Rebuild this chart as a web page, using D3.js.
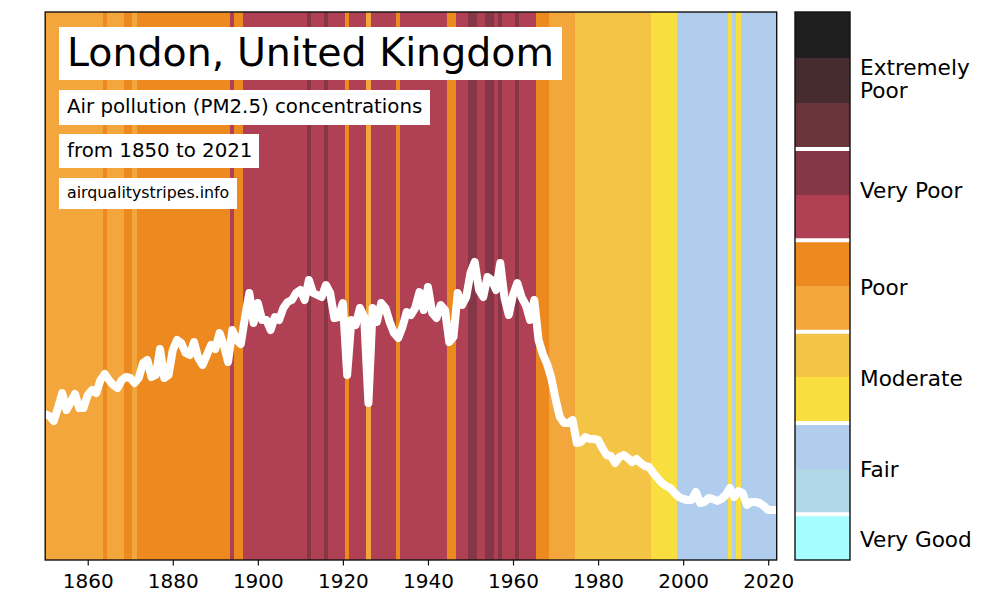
<!DOCTYPE html>
<html><head><meta charset="utf-8">
<script src="https://cdn.jsdelivr.net/npm/d3@7"></script>
<style>html,body{margin:0;padding:0;background:#fff}svg{display:block}text{font-family:"DejaVu Sans",sans-serif;fill:#000}</style>
</head><body><svg id="c" width="1000" height="613"></svg>
<script>
const firstYear = 1850;
const pm25 = [
14.6,14.4,13.9,15.2,16.7,15.0,15.8,16.6,15.2,15.2,
16.5,17.0,16.7,18.0,18.6,18.0,17.5,17.2,18.0,18.3,
18.2,17.7,18.2,19.7,20.0,18.3,18.5,21.1,18.2,18.5,
21.0,22.0,21.7,20.7,20.5,21.8,20.2,19.5,20.5,21.5,
21.1,22.7,21.5,19.8,23.0,22.0,21.6,24.3,26.7,23.7,
25.7,24.0,24.0,23.0,24.3,24.0,25.2,25.8,26.0,26.7,
27.0,26.0,28.0,26.7,26.5,26.3,27.5,26.7,24.2,24.3,
25.7,18.5,24.0,23.5,25.2,24.3,15.7,25.2,23.8,25.7,
25.2,23.8,22.7,22.2,23.3,24.8,24.5,25.2,26.8,25.0,
27.3,24.7,24.2,25.5,25.0,21.8,22.3,26.7,25.5,26.3,
28.7,29.8,27.0,26.3,28.3,28.0,27.0,29.7,26.2,24.5,
26.5,27.7,26.3,25.5,24.0,26.0,22.0,20.6,19.6,18.2,
16.1,14.3,13.7,13.7,14.0,11.7,11.8,12.3,12.1,12.1,
12.0,11.2,10.5,10.4,9.7,10.3,10.5,10.2,9.8,10.1,
9.7,9.4,9.3,8.7,8.2,7.7,7.4,7.2,6.7,6.3,
6.1,6.0,6.0,6.8,5.7,5.8,6.2,6.1,5.9,6.1,
6.5,7.2,6.3,6.9,6.7,5.5,5.8,5.8,5.7,5.4,
5.0,5.0];
// Index into levelColors for each year's stripe
const stripeLevel = [
6,6,6,6,6,6,6,6,6,6,
6,6,6,6,5,6,6,6,6,5,
5,6,5,5,5,5,5,5,5,5,
5,5,5,5,5,5,5,5,5,5,
5,5,5,5,4,5,5,4,4,4,
4,4,4,4,4,4,4,4,4,4,
4,4,3,4,4,4,3,4,4,4,
4,5,4,4,4,4,6,4,4,4,
4,4,4,5,4,4,4,4,4,4,
4,4,4,4,4,5,5,4,4,4,
3,3,4,4,3,3,4,3,4,4,
4,3,4,4,4,4,5,5,5,6,
6,6,6,6,6,7,7,7,7,7,
7,7,7,7,7,7,7,7,7,7,
7,7,7,8,8,8,8,8,8,9,
9,9,9,9,9,9,9,9,9,9,
9,8,9,8,9,9,9,9,9,9,
9,9];
const levelColors = ["#201f20","#462c2e","#6a343b","#853748","#b04155","#ec8a20","#f3a63c","#f3c446","#f9de40","#b0cdee","#b0d8e6","#a5fdff"];
const levelSeparators = [3,5,7,9,11];
const categoryLabels = [["Extremely","Poor"],["Very Poor"],["Poor"],["Moderate"],["Fair"],["Very Good"]];
const categoryCenters = [1.456,3.91,6.02,8.02,10.02,11.544];
const tickYears = [1860,1880,1900,1920,1940,1960,1980,2000,2020];
const titleLines = [
  {t:"London, United Kingdom", size:39.5, top:27, h:53, w:503},
  {t:"Air pollution (PM2.5) concentrations", size:19.8, top:90, h:35, w:371},
  {t:"from 1850 to 2021", size:19.8, top:134, h:34, w:200},
  {t:"airqualitystripes.info", size:15.8, top:178, h:31, w:178}
];

const L=45.2,R=776.7,T=12,B=560,CL=795,CR=850;
const svg=d3.select("#c");
const x=d3.scaleLinear().domain([1850,2022]).range([L,R]);
const y=d3.scaleLinear().domain([0,54.8]).range([B,T]);
const years=pm25.map((_,i)=>firstYear+i);

svg.append("defs").append("clipPath").attr("id","plot").append("rect")
  .attr("x",L).attr("y",T).attr("width",R-L).attr("height",B-T);
const plot=svg.append("g").attr("clip-path","url(#plot)");
plot.selectAll("rect.s").data(years).join("rect").attr("class","s")
  .attr("shape-rendering","crispEdges")
  .attr("x",d=>x(d-0.5))
  .attr("width",d=>x(d===2021?2022.5:d+0.5)-x(d-0.5))
  .attr("y",T).attr("height",B-T)
  .attr("fill",(d,i)=>levelColors[stripeLevel[i]]);
plot.append("path").datum(pm25)
  .attr("d",d3.line().x((d,i)=>x(years[i])).y(d=>y(d)))
  .attr("fill","none").attr("stroke","#fff").attr("stroke-width",8)
  .attr("stroke-linejoin","round").attr("stroke-linecap","square");

svg.append("rect").attr("x",L).attr("y",T).attr("width",R-L).attr("height",B-T)
  .attr("fill","none").attr("stroke","#111").attr("stroke-width",1.4);

const axis=svg.append("g").attr("transform",`translate(0,${B})`)
  .call(d3.axisBottom(x).tickValues(tickYears).tickFormat(d3.format("d")).tickSize(5.5).tickPadding(8));
axis.select(".domain").remove();
axis.selectAll("line").attr("stroke","#111").attr("stroke-width",1.2);
axis.selectAll("text").attr("font-size",20).attr("font-family",'"DejaVu Sans"').attr("fill","#000");

titleLines.forEach(d=>{
  svg.append("rect").attr("x",59).attr("y",d.top).attr("width",d.w).attr("height",d.h).attr("fill","#fff");
  svg.append("text").attr("x",67).attr("y",d.top+d.h/2-1.3).attr("dy","0.36em").attr("font-size",d.size).text(d.t);
});

const band=d3.scaleBand().domain(d3.range(levelColors.length)).range([T,B]);
svg.selectAll("rect.c").data(levelColors).join("rect").attr("class","c")
  .attr("shape-rendering","crispEdges")
  .attr("x",CL).attr("width",CR-CL).attr("y",(d,i)=>band(i)).attr("height",band.bandwidth()+0.3).attr("fill",d=>d);
svg.selectAll("line.sep").data(levelSeparators).join("line").attr("class","sep")
  .attr("x1",CL).attr("x2",CR).attr("y1",d=>band(d)).attr("y2",d=>band(d))
  .attr("stroke","#fff").attr("stroke-width",4);
svg.append("rect").attr("x",CL).attr("y",T).attr("width",CR-CL).attr("height",B-T)
  .attr("fill","none").attr("stroke","#111").attr("stroke-width",1.4);

const yCb=d3.scaleLinear().domain([0,12]).range([T,B]);
categoryLabels.forEach((lines,i)=>{
  const cy=yCb(categoryCenters[i]);
  const t=svg.append("text").attr("font-size",21.6);
  lines.forEach((s,j)=>{
    t.append("tspan").attr("x",860).attr("y",cy+(j-(lines.length-1)/2)*22.5).attr("dy","0.36em").text(s);
  });
});
</script></body></html>
